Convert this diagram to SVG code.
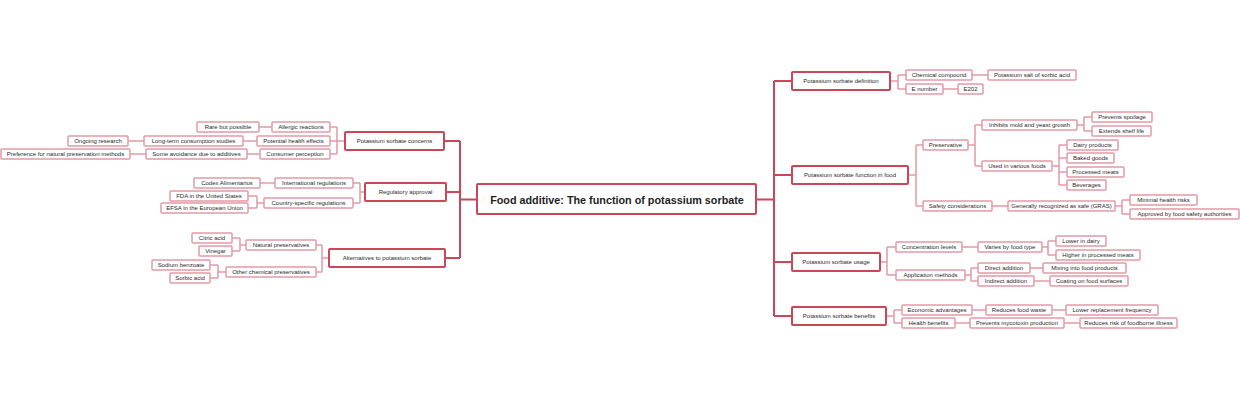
<svg xmlns="http://www.w3.org/2000/svg" width="1240" height="400" viewBox="0 0 1240 400">
<style>
rect{fill:#fff}
.r0{stroke:#cb4657;stroke-width:2}
.r1{stroke:#cb4657;stroke-width:2}
.r2{stroke:#e39aa7;stroke-width:1.5}
text{font-family:"Liberation Sans",Arial,sans-serif;fill:#2a2a2a;text-anchor:middle;dominant-baseline:central}
.t0{font-size:10.8px;font-weight:bold;fill:#1e1e1e}
.t1{font-size:6px}
.t2{font-size:6px}
.c1{fill:none;stroke:#cb4657;stroke-width:2}
.c2{fill:none;stroke:#e39aa7;stroke-width:1.5}
</style>
<g id="connectors">
<path class="c1" d="M757 199.5H774M774 81V316M774 81H792M774 175H792M774 262H792M774 316H792"/>
<path class="c1" d="M477 199.5H460M460 141V258M460 141H444M460 192H446M460 258H445"/>
<path class="c2" d="M345 141H337M337 127V154M337 127H330M337 141H330M337 154H330M259 127H272M243 141H257M128 141H144M247 154H260M130 154H146"/>
<path class="c2" d="M365 192H360M360 183V203M360 183H353M360 203H353M260 183H275M264 203H257M257 196V208M257 196H248M257 208H248"/>
<path class="c2" d="M329 258H322M322 245V272M322 245H316M322 272H316M246 245H240M240 238V251M240 238H232M240 251H232M226 272H218M218 265V278M218 265H210M218 278H210"/>
<path class="c2" d="M890 81H898M898 75V89M898 75H906M898 89H906M972 75H988M943 89H958"/>
<path class="c2" d="M908 175H916M916 145V206M916 145H923M916 206H923M968 145H975M975 125V166M975 125H982M975 166H982M1077 125H1084M1084 117V131M1084 117H1092M1084 131H1092M1052 166H1059M1059 145V185M1059 145H1067M1059 158H1067M1059 172H1067M1059 185H1067M992 206H1008M1115 206H1122M1122 200V214M1122 200H1130M1122 214H1130"/>
<path class="c2" d="M880 262H887M887 247V275M887 247H896M887 275H896M962 247H978M1042 247H1048M1048 241V255M1048 241H1056M1048 255H1056M965 275H971M971 268V281M971 268H978M971 281H978M1030 268H1043M1034 281H1050"/>
<path class="c2" d="M886 316H894M894 310V323M894 310H902M894 323H902M972 310H986M1052 310H1066M955 323H970M1064 323H1080"/>
</g>
<g id="root"><rect class="r0" x="477" y="184" width="279" height="30" rx="1"/><text class="t0" x="617" y="200">Food additive: The function of potassium sorbate</text></g>
<g id="concerns"><rect class="r1" x="345" y="132" width="99" height="18" rx="1"/><text class="t1" x="394.5" y="141">Potassium sorbate concerns</text></g>
<g id="allergic"><rect class="r2" x="272" y="122" width="58" height="10" rx="1"/><text class="t2" x="301" y="127">Allergic reactions</text></g>
<g id="rare"><rect class="r2" x="197" y="122" width="62" height="10" rx="1"/><text class="t2" x="228" y="127">Rare but possible</text></g>
<g id="health-effects"><rect class="r2" x="257" y="136" width="73" height="10" rx="1"/><text class="t2" x="293.5" y="141">Potential health effects</text></g>
<g id="longterm"><rect class="r2" x="144" y="136" width="99" height="10" rx="1"/><text class="t2" x="193.5" y="141">Long-term consumption studies</text></g>
<g id="ongoing"><rect class="r2" x="68" y="136" width="60" height="10" rx="1"/><text class="t2" x="98" y="141">Ongoing research</text></g>
<g id="consumer"><rect class="r2" x="260" y="149" width="70" height="10" rx="1"/><text class="t2" x="295" y="154">Consumer perception</text></g>
<g id="avoidance"><rect class="r2" x="146" y="149" width="101" height="10" rx="1"/><text class="t2" x="196.5" y="154">Some avoidance due to additives</text></g>
<g id="preference"><rect class="r2" x="1" y="149" width="129" height="10" rx="1"/><text class="t2" x="65.5" y="154">Preference for natural preservation methods</text></g>
<g id="regulatory"><rect class="r1" x="365" y="183" width="81" height="18" rx="1"/><text class="t1" x="405.5" y="192">Regulatory approval</text></g>
<g id="international"><rect class="r2" x="275" y="178" width="78" height="10" rx="1"/><text class="t2" x="314" y="183">International regulations</text></g>
<g id="codex"><rect class="r2" x="194" y="178" width="66" height="10" rx="1"/><text class="t2" x="227" y="183">Codex Alimentarius</text></g>
<g id="country"><rect class="r2" x="264" y="198" width="89" height="10" rx="1"/><text class="t2" x="308.5" y="203">Country-specific regulations</text></g>
<g id="fda"><rect class="r2" x="170" y="191" width="78" height="10" rx="1"/><text class="t2" x="209" y="196">FDA in the United States</text></g>
<g id="efsa"><rect class="r2" x="161" y="203" width="87" height="10" rx="1"/><text class="t2" x="204.5" y="208">EFSA in the European Union</text></g>
<g id="alternatives"><rect class="r1" x="329" y="249" width="116" height="18" rx="1"/><text class="t1" x="387" y="258">Alternatives to potassium sorbate</text></g>
<g id="natural"><rect class="r2" x="246" y="240" width="70" height="10" rx="1"/><text class="t2" x="281" y="245">Natural preservatives</text></g>
<g id="citric"><rect class="r2" x="192" y="233" width="40" height="10" rx="1"/><text class="t2" x="212" y="238">Citric acid</text></g>
<g id="vinegar"><rect class="r2" x="199" y="246" width="33" height="10" rx="1"/><text class="t2" x="215.5" y="251">Vinegar</text></g>
<g id="other-chem"><rect class="r2" x="226" y="267" width="90" height="10" rx="1"/><text class="t2" x="271" y="272">Other chemical preservatives</text></g>
<g id="benzoate"><rect class="r2" x="152" y="260" width="58" height="10" rx="1"/><text class="t2" x="181" y="265">Sodium benzoate</text></g>
<g id="sorbic"><rect class="r2" x="170" y="273" width="40" height="10" rx="1"/><text class="t2" x="190" y="278">Sorbic acid</text></g>
<g id="definition"><rect class="r1" x="792" y="72" width="98" height="18" rx="1"/><text class="t1" x="841" y="81">Potassium sorbate definition</text></g>
<g id="chemical"><rect class="r2" x="906" y="70" width="66" height="10" rx="1"/><text class="t2" x="939" y="75">Chemical compound</text></g>
<g id="salt"><rect class="r2" x="988" y="70" width="88" height="10" rx="1"/><text class="t2" x="1032" y="75">Potassium salt of sorbic acid</text></g>
<g id="enumber"><rect class="r2" x="906" y="84" width="37" height="10" rx="1"/><text class="t2" x="924.5" y="89">E number</text></g>
<g id="e202"><rect class="r2" x="958" y="84" width="25" height="10" rx="1"/><text class="t2" x="970.5" y="89">E202</text></g>
<g id="function"><rect class="r1" x="792" y="166" width="116" height="18" rx="1"/><text class="t1" x="850" y="175">Potassium sorbate function in food</text></g>
<g id="preservative"><rect class="r2" x="923" y="140" width="45" height="10" rx="1"/><text class="t2" x="945.5" y="145">Preservative</text></g>
<g id="inhibits"><rect class="r2" x="982" y="120" width="95" height="10" rx="1"/><text class="t2" x="1029.5" y="125">Inhibits mold and yeast growth</text></g>
<g id="spoilage"><rect class="r2" x="1092" y="112" width="60" height="10" rx="1"/><text class="t2" x="1122" y="117">Prevents spoilage</text></g>
<g id="shelf"><rect class="r2" x="1092" y="126" width="59" height="10" rx="1"/><text class="t2" x="1121.5" y="131">Extends shelf life</text></g>
<g id="used"><rect class="r2" x="982" y="161" width="70" height="10" rx="1"/><text class="t2" x="1017" y="166">Used in various foods</text></g>
<g id="dairy"><rect class="r2" x="1067" y="140" width="51" height="10" rx="1"/><text class="t2" x="1092.5" y="145">Dairy products</text></g>
<g id="baked"><rect class="r2" x="1067" y="153" width="47" height="10" rx="1"/><text class="t2" x="1090.5" y="158">Baked goods</text></g>
<g id="processed"><rect class="r2" x="1067" y="167" width="57" height="10" rx="1"/><text class="t2" x="1095.5" y="172">Processed meats</text></g>
<g id="beverages"><rect class="r2" x="1067" y="180" width="39" height="10" rx="1"/><text class="t2" x="1086.5" y="185">Beverages</text></g>
<g id="safety"><rect class="r2" x="923" y="201" width="69" height="10" rx="1"/><text class="t2" x="957.5" y="206">Safety considerations</text></g>
<g id="gras"><rect class="r2" x="1008" y="201" width="107" height="10" rx="1"/><text class="t2" x="1061.5" y="206">Generally recognized as safe (GRAS)</text></g>
<g id="minimal"><rect class="r2" x="1130" y="195" width="67" height="10" rx="1"/><text class="t2" x="1163.5" y="200">Minimal health risks</text></g>
<g id="approved"><rect class="r2" x="1130" y="209" width="109" height="10" rx="1"/><text class="t2" x="1184.5" y="214">Approved by food safety authorities</text></g>
<g id="usage"><rect class="r1" x="792" y="253" width="88" height="18" rx="1"/><text class="t1" x="836" y="262">Potassium sorbate usage</text></g>
<g id="concentration"><rect class="r2" x="896" y="242" width="66" height="10" rx="1"/><text class="t2" x="929" y="247">Concentration levels</text></g>
<g id="varies"><rect class="r2" x="978" y="242" width="64" height="10" rx="1"/><text class="t2" x="1010" y="247">Varies by food type</text></g>
<g id="lower-dairy"><rect class="r2" x="1056" y="236" width="50" height="10" rx="1"/><text class="t2" x="1081" y="241">Lower in dairy</text></g>
<g id="higher-meats"><rect class="r2" x="1056" y="250" width="84" height="10" rx="1"/><text class="t2" x="1098" y="255">Higher in processed meats</text></g>
<g id="application"><rect class="r2" x="896" y="270" width="69" height="10" rx="1"/><text class="t2" x="930.5" y="275">Application methods</text></g>
<g id="direct"><rect class="r2" x="978" y="263" width="52" height="10" rx="1"/><text class="t2" x="1004" y="268">Direct addition</text></g>
<g id="mixing"><rect class="r2" x="1043" y="263" width="83" height="10" rx="1"/><text class="t2" x="1084.5" y="268">Mixing into food products</text></g>
<g id="indirect"><rect class="r2" x="978" y="276" width="56" height="10" rx="1"/><text class="t2" x="1006" y="281">Indirect addition</text></g>
<g id="coating"><rect class="r2" x="1050" y="276" width="78" height="10" rx="1"/><text class="t2" x="1089" y="281">Coating on food surfaces</text></g>
<g id="benefits"><rect class="r1" x="792" y="307" width="94" height="18" rx="1"/><text class="t1" x="839" y="316">Potassium sorbate benefits</text></g>
<g id="economic"><rect class="r2" x="902" y="305" width="70" height="10" rx="1"/><text class="t2" x="937" y="310">Economic advantages</text></g>
<g id="waste"><rect class="r2" x="986" y="305" width="66" height="10" rx="1"/><text class="t2" x="1019" y="310">Reduces food waste</text></g>
<g id="replacement"><rect class="r2" x="1066" y="305" width="92" height="10" rx="1"/><text class="t2" x="1112" y="310">Lower replacement frequency</text></g>
<g id="health-benefits"><rect class="r2" x="902" y="318" width="53" height="10" rx="1"/><text class="t2" x="928.5" y="323">Health benefits</text></g>
<g id="mycotoxin"><rect class="r2" x="970" y="318" width="94" height="10" rx="1"/><text class="t2" x="1017" y="323">Prevents mycotoxin production</text></g>
<g id="foodborne"><rect class="r2" x="1080" y="318" width="97" height="10" rx="1"/><text class="t2" x="1128.5" y="323">Reduces risk of foodborne illness</text></g>
</svg>
